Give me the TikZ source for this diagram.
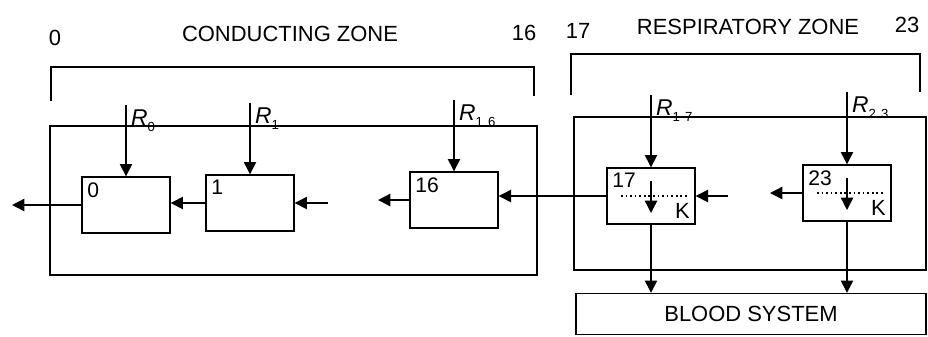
\documentclass[tikz,border=0pt]{standalone}
\usepackage{fontspec}
\setmainfont{Liberation Sans}
\usetikzlibrary{arrows.meta}
\newcommand{\Rlab}[1]{\textit{R}\raisebox{-0.5ex}{\fontsize{7.5}{8}\selectfont #1}}

\begin{document}
\begin{tikzpicture}[x=0.02cm,y=-0.02cm,line width=0.8pt,
  zone/.style={font=\fontsize{12.5}{14}\selectfont},
  cell/.style={draw,minimum width=1.76cm,minimum height=1.12cm,inner sep=0pt},
  num/.style={anchor=north west,inner sep=3pt,font=\fontsize{12}{14}\selectfont},
  rlab/.style={anchor=north west,inner sep=2.5pt,font=\fontsize{13}{15}\selectfont},
  >={Triangle[length=7pt,width=7pt]}]
 \useasboundingbox (0,0) rectangle (928,336);
 % zone headings
 \node[zone] (n0) at (55,38) {0};
 \node[zone] (czone) at (290,34) {CONDUCTING ZONE};
 \node[zone] (n16) at (524,33) {16};
 \node[zone] (n17) at (578,31) {17};
 \node[zone] (rzone) at (748,27) {RESPIRATORY ZONE};
 \node[zone] (n23) at (907,25) {23};
 \draw (51,101) |- (534,67) -- (534,96);
 \draw (571,95) |- (920,54) -- (920,92);
 % outer boxes
 \draw (50,126) rectangle (537,275);
 \draw (574,117) rectangle (926,270);
 % generations
 \node[cell,label={[num]north west:0}] (b0) at (126,205) {};
 \node[cell,label={[num]north west:1}] (b1) at (250,203) {};
 \node[cell,label={[num]north west:16}] (b16) at (454,200) {};
 \node[cell,label={[num]north west:17}] (b17) at (651,196) {};
 \node[cell,label={[num]north west:23}] (b23) at (847,193) {};
 \node[draw,minimum width=7cm,minimum height=0.82cm,font=\fontsize{12.5}{14}\selectfont] (blood) at (751,314) {BLOOD SYSTEM};
 % resistances
 \coordinate (r0) at (126,105);
 \coordinate (r1) at (250,103);
 \coordinate (r16) at (454,100);
 \coordinate (r17) at (651,95);
 \coordinate (r23) at (847,92);
 \node[rlab] at (r0) {\Rlab{0}};
 \node[rlab] at (r1) {\Rlab{1}};
 \node[rlab] at (r16) {\Rlab{1\hspace{3pt}6}};
 \node[rlab] at (r17) {\Rlab{1\hspace{3pt}7}};
 \node[rlab] at (r23) {\Rlab{2\hspace{3pt}3}};
 % flow ends
 \coordinate (out0) at (12,205);
 \coordinate (in1) at (328,203);
 \coordinate (out16) at (378,200);
 \coordinate (in17) at (728,196);
 \coordinate (out23) at (770,193);
 \path[->]
   (r0) edge (b0.north)
   (r1) edge (b1.north)
   (r16) edge (b16.north)
   (r17) edge (b17.north)
   (r23) edge (b23.north)
   (b0.west) edge (out0)
   (b1.west) edge (b0.east |- b1.west)
   (in1) edge (b1.east)
   (b16.west) edge (out16)
   (b17.west) edge (b16.east |- b17.west)
   (in17) edge (b17.east)
   (b23.west) edge (out23)
   (b17.south) edge (b17.south |- blood.north)
   (b23.south) edge (b23.south |- blood.north);
 % exchange inside alveolar cells
 \foreach \b in {b17,b23} {
   \draw[dash pattern=on 1pt off 1.6pt] ([xshift=-0.6cm]\b.center) -- ([xshift=0.75cm]\b.center);
   \draw[->] ([yshift=0.3cm]\b.center) -- ([yshift=-0.34cm]\b.center);
   \node[anchor=south east,inner sep=3pt,font=\fontsize{12.5}{14}\selectfont] at (\b.south east) {K};
 }
\end{tikzpicture}
\end{document}
